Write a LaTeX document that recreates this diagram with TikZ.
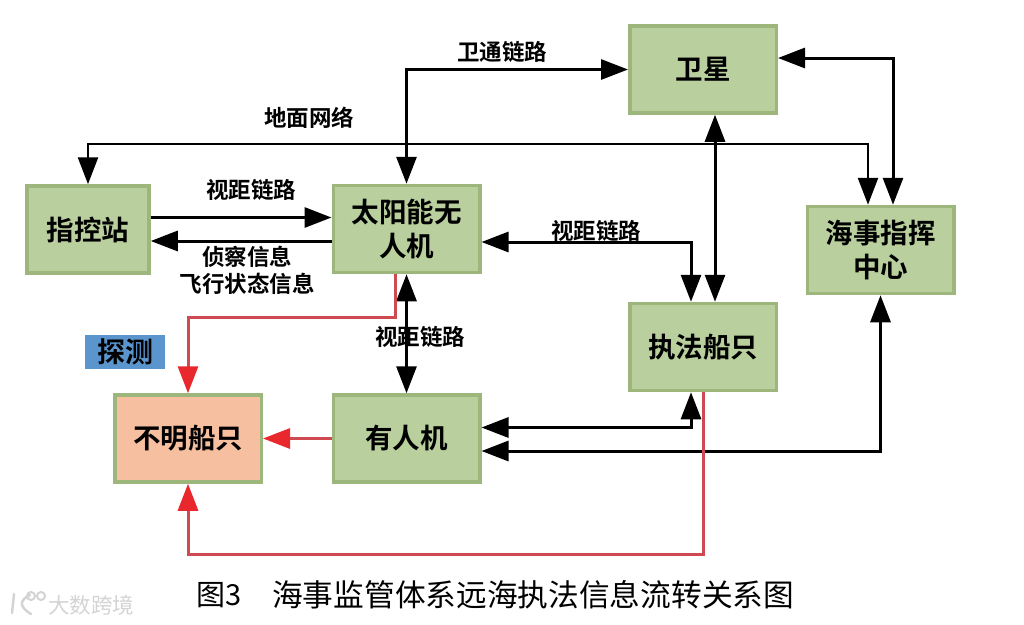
\documentclass[tikz,border=0pt]{standalone}
\usepackage{fontspec}
\setmainfont{Noto Sans CJK SC}[BoldFont=* Bold]
\newfontfamily\capfont{Noto Sans CJK SC}
\usetikzlibrary{arrows.meta}
\definecolor{boxfill}{HTML}{B9CF9D}
\definecolor{boxline}{HTML}{9DB67C}
\definecolor{orangefill}{HTML}{F6BFA0}
\definecolor{tagblue}{HTML}{5B95CE}
\definecolor{redline}{HTML}{CF4A50}
\definecolor{redtip}{HTML}{E8282C}
\definecolor{wm}{HTML}{D4D4D4}
\tikzset{
  x=1pt,y=-1pt,
  basebox/.style={draw=boxline,line width=3.5pt,minimum width=146.5pt,minimum height=87pt,inner sep=0pt,outer sep=1.75pt,align=center,font=\bfseries\fontsize{27.5}{34}\selectfont,text=black},
  greenbox/.style={basebox,fill=boxfill},
  orangebox/.style={basebox,fill=orangefill,draw=boxline},
  lbl/.style={font=\bfseries\fontsize{22.5}{27}\selectfont,text=black,inner sep=0pt,align=center},
  blackflow/.style={draw=black,line width=3pt},
  tipb/.style={-{Triangle[length=27pt,width=20pt]}},
  tipB/.style={{Triangle[length=27pt,width=20pt]}-{Triangle[length=27pt,width=20pt]}},
  redflow/.style={draw=redline,line width=3pt,-{Triangle[length=27pt,width=20pt,fill=redtip,color=redtip]}},
}
\begin{document}
\begin{tikzpicture}
\useasboundingbox (0,0) rectangle (1024,624);
\fill[white] (0,0) rectangle (1024,624);
% boxes
\node[greenbox,minimum width=122pt] (ctrl) at (88,229.5) {指控站};
\node[greenbox] (uav) at (406.5,229) {太阳能无\\人机};
\node[greenbox] (sat) at (703,69.5) {卫星};
\node[greenbox] (cmd) at (880.5,250) {海事指挥\\中心};
\node[greenbox] (exec) at (703,347) {执法船只};
\node[greenbox] (man) at (406.5,438.5) {有人机};
\node[orangebox] (unk) at (188,438.5) {不明船只};
\node[fill=tagblue,minimum width=80pt,minimum height=34pt,inner sep=0pt,font=\bfseries\fontsize{28}{30}\selectfont,text=black] (tag) at (125,352) {探测};
% helper points
\coordinate (gnd) at (400,144);
\coordinate (redA) at (300,317);
\coordinate (redB) at (400,554);
% black connectors
\draw[blackflow,tipB] (uav.north) |- (sat.west);
\draw[blackflow,tipb,line width=2.5pt] (gnd) -| (ctrl.north);
\draw[blackflow,tipb,line width=2.5pt] (gnd) -| ([xshift=-12.5]cmd.north);
\draw[blackflow,tipB] ([yshift=11.5]sat.east) -| ([xshift=12.5]cmd.north);
\draw[blackflow,tipB] ([xshift=12]sat.south) -- ([xshift=12]exec.north);
\draw[blackflow,tipB] ([yshift=-13]uav.east) -| ([xshift=-12]exec.north);
\draw[blackflow,tipb] ([yshift=12]ctrl.east) -- ([yshift=12]ctrl.east -| uav.west);
\draw[blackflow,tipb] ([yshift=-12]uav.west) -- ([yshift=-12]uav.west -| ctrl.east);
\draw[blackflow,tipB] (uav.south) -- (man.north);
\draw[blackflow,tipB] ([yshift=11]man.east) -| ([xshift=-12]exec.south);
\draw[blackflow,tipB] ([yshift=-12.5]man.east) -| (cmd.south);
% red connectors
\draw[redflow] ([xshift=-11.5]uav.south) |- (redA) -| (unk.north);
\draw[redflow] (man.west) -- (unk.east);
\draw[redflow] (exec.south) |- (redB) -| (unk.south);
% labels
\node[lbl] (l1) at (502,52) {卫通链路};
\node[lbl] (l2) at (309,118) {地面网络};
\node[lbl] (l3) at (251,190) {视距链路};
\node[lbl] (l4) at (247,270.5) {侦察信息\\飞行状态信息};
\node[lbl] (l5) at (420,337) {视距链路};
\node[lbl] (l6) at (596,231) {视距链路};
% caption
\node[font=\capfont\fontsize{29}{30}\selectfont,text=black,inner sep=0pt,anchor=west] (cap1) at (196,595) {图3};
\node[font=\capfont\fontsize{30.7}{32}\selectfont,text=black,inner sep=0pt,anchor=west] (cap2) at (272,595) {海事监管体系远海执法信息流转关系图};
% watermark
\draw[wm,line width=2.5pt,line cap=round] (14,594) -- (12,613);
\draw[wm,line width=2.5pt,line cap=round] (30,595) .. controls (20,600) and (18,606) .. (31,614);
\draw[wm,line width=2pt] (31,596) circle (4pt) (41,596) circle (4pt);
\node[font=\fontsize{21.5}{22}\selectfont,text=wm,inner sep=0pt,anchor=west] (wmark) at (48,605) {大数跨境};
\end{tikzpicture}
\end{document}
